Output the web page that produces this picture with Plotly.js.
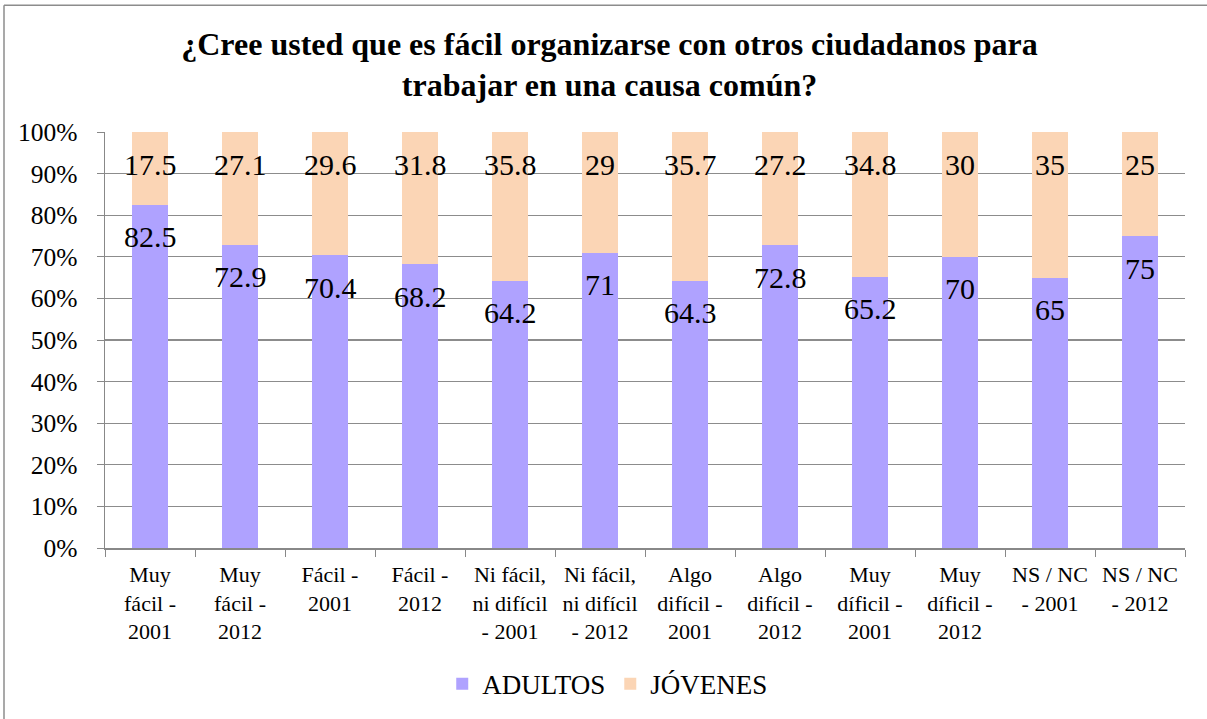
<!DOCTYPE html>
<html><head><meta charset="utf-8">
<script src="https://cdn.plot.ly/plotly-3.0.1.min.js"></script>
<style>html,body{margin:0;padding:0;background:#fff;}#chart{width:1207px;height:719px;}</style>
</head><body><div id="chart"></div>
<script>
const categories = [
  "Muy<br>fácil -<br>2001", "Muy<br>fácil -<br>2012", "Fácil -<br>2001", "Fácil -<br>2012",
  "Ni fácil,<br>ni difícil<br>- 2001", "Ni fácil,<br>ni difícil<br>- 2012",
  "Algo<br>difícil -<br>2001", "Algo<br>difícil -<br>2012",
  "Muy<br>díficil -<br>2001", "Muy<br>díficil -<br>2012",
  "NS / NC<br>- 2001", "NS / NC<br>- 2012"
];
const adultos = [82.5, 72.9, 70.4, 68.2, 64.2, 71, 64.3, 72.8, 65.2, 70, 65, 75];
const jovenes = [17.5, 27.1, 29.6, 31.8, 35.8, 29, 35.7, 27.2, 34.8, 30, 35, 25];
const seriesNames = ["ADULTOS", "JÓVENES"];
const colors = ["#AFA2FF", "#FBD5B5"];
const titleText = "<b>¿Cree usted que es fácil organizarse con otros ciudadanos para<br>trabajar en una causa común?</b>";

const font = "Liberation Serif, Times New Roman, serif";

const traces = [
  {type: 'bar', name: seriesNames[0], x: categories, y: adultos, marker: {color: colors[0]}, hoverinfo: 'skip'},
  {type: 'bar', name: seriesNames[1], x: categories, y: jovenes, marker: {color: colors[1]}, hoverinfo: 'skip'}
];

const annotations = [];
categories.forEach((c, i) => {
  annotations.push({x: c, y: adultos[i], xref: 'x', yref: 'y', text: String(adultos[i]), showarrow: false,
    yanchor: 'middle', yshift: -32, font: {family: font, size: 30, color: '#000'}});
  annotations.push({x: c, y: adultos[i] + jovenes[i], xref: 'x', yref: 'y', text: String(jovenes[i]), showarrow: false,
    yanchor: 'middle', yshift: -32, font: {family: font, size: 30, color: '#000'}});
});

const W = 1080, H = 417;
const layout = {
  width: 1207, height: 719,
  margin: {l: 105, r: 22, t: 132, b: 170},
  paper_bgcolor: '#fff', plot_bgcolor: '#fff',
  barmode: 'stack', bargap: 0.6,
  font: {family: font, color: '#000'},
  title: {text: titleText, font: {family: font, size: 32, color: '#000'}, x: 0.505, xanchor: 'center', y: 0.924, yanchor: 'middle'},
  xaxis: {
    type: 'category', tickson: 'boundaries', ticks: 'outside', ticklen: 7, tickcolor: '#888',
    showline: true, linecolor: '#888', linewidth: 1.5, showgrid: false,
    tickfont: {family: font, size: 22, color: '#000'}, tickangle: 0, ticklabelstandoff: 6, automargin: false
  },
  yaxis: {
    range: [0, 100], dtick: 10, ticksuffix: '%', ticks: 'outside', ticklen: 7, tickcolor: '#888',
    showline: true, linecolor: '#888', linewidth: 1.5, showgrid: true, gridcolor: '#8c8c8c', gridwidth: 1.3,
    zeroline: false, tickfont: {family: font, size: 25.5, color: '#000'}, ticklabelstandoff: 14, automargin: false
  },
  showlegend: true,
  legend: {orientation: 'h', x: 0.4655, xanchor: 'center', y: -0.324, yanchor: 'middle',
    font: {family: font, size: 27, color: '#000'}, itemsizing: 'constant', traceorder: 'normal'},
  annotations: annotations,
  shapes: [
    {type: 'line', xref: 'paper', yref: 'paper', x0: (4 - 105) / W, x1: (4 - 105) / W, y0: (549 - 5) / H, y1: (549 - 730) / H, line: {color: '#8c8c8c', width: 1.5}},
    {type: 'line', xref: 'paper', yref: 'paper', x0: (4 - 105) / W, x1: (1215 - 105) / W, y0: (549 - 5) / H, y1: (549 - 5) / H, line: {color: '#8c8c8c', width: 1.5}}
  ]
};

Plotly.newPlot('chart', traces, layout, {displayModeBar: false, staticPlot: true});
</script></body></html>
